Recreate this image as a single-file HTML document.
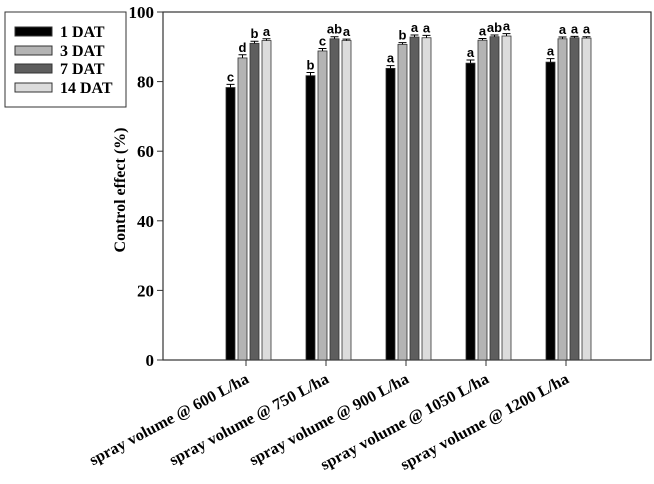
<!DOCTYPE html>
<html><head><meta charset="utf-8"><style>
body{margin:0;background:#fff;}
svg text{font-family:"Liberation Serif",serif;font-weight:bold;}
</style></head><body>
<svg id="chart" width="654" height="479" xmlns="http://www.w3.org/2000/svg">
<rect x="163" y="12" width="488" height="348" fill="none" stroke="#333" stroke-width="1.2"/>
<g id="bars"></g>
<g id="axes"></g>
<text transform="translate(125,190) rotate(-90)" text-anchor="middle" font-size="16">Control effect (%)</text>
<g>
<rect x="5" y="12" width="121" height="95" fill="#fff" stroke="#333" stroke-width="1"/>
<rect x="15" y="27" width="37" height="9" fill="#000" stroke="#333"/>
<text x="60" y="37" font-size="16">1 DAT</text>
<rect x="15" y="46" width="37" height="9" fill="#b4b4b4" stroke="#333"/>
<text x="60" y="56" font-size="16">3 DAT</text>
<rect x="15" y="64" width="37" height="9" fill="#5e5e5e" stroke="#333"/>
<text x="60" y="74" font-size="16">7 DAT</text>
<rect x="15" y="83" width="37" height="9" fill="#dcdcdc" stroke="#333"/>
<text x="60" y="93" font-size="16">14 DAT</text>
</g>
</svg>
<script>
const categories=["spray volume @ 600 L/ha","spray volume @ 750 L/ha","spray volume @ 900 L/ha","spray volume @ 1050 L/ha","spray volume @ 1200 L/ha"];
const dat1=[78.3,81.7,83.8,85.3,85.6];
const dat3=[86.8,88.8,90.7,91.9,92.3];
const dat7=[91.0,92.3,92.8,92.9,92.6];
const dat14=[91.8,91.8,92.6,93.1,92.5];
const err1=[0.9,0.9,0.8,0.9,1.0];
const err3=[0.9,0.7,0.5,0.5,0.5];
const err7=[0.6,0.6,0.6,0.5,0.4];
const err14=[0.5,0.4,0.7,0.7,0.4];
const let1=["c","b","a","a","a"];
const let3=["d","c","b","a","a"];
const let7=["b","ab","a","ab","a"];
const let14=["a","a","a","a","a"];
const yTicks=[0,20,40,60,80,100];
const NS="http://www.w3.org/2000/svg";
const y=v=>360-v*3.48;
const xc=i=>246+i*80;
const bw=9,step=12;
const series=[[dat1,err1,let1,"#000","1dat"],[dat3,err3,let3,"#b4b4b4","3dat"],[dat7,err7,let7,"#5e5e5e","7dat"],[dat14,err14,let14,"#dcdcdc","14dat"]];
const bars=document.getElementById("bars"),axes=document.getElementById("axes");
function mk(t,a,p){const e=document.createElementNS(NS,t);for(const k in a)e.setAttribute(k,a[k]);p.appendChild(e);return e;}
categories.forEach((c,i)=>{
  series.forEach((s,j)=>{
    const x=xc(i)-20+j*step;
    const v=s[0][i],e=s[1][i];
    const r=mk("rect",{x:x,y:y(v),width:bw,height:360-y(v),fill:s[3],stroke:"#333","stroke-width":0.8},bars);
    
    
    const cx=x+bw/2;
    const eb=mk("path",{d:`M${cx},${y(v)} V${y(v+e)} M${cx-4},${y(v+e)} H${cx+4}`,stroke:"#000","stroke-width":1,fill:"none"},bars);
    
    
    const t=mk("text",{x:cx,y:y(v+e)-3,"text-anchor":"middle","font-size":13},bars);
    t.style.fontFamily='"Liberation Sans",sans-serif';
    t.textContent=s[2][i];
    
    
  });
  const tk=mk("line",{x1:xc(i),x2:xc(i),y1:360,y2:366,stroke:"#333"},axes);
  
  
  const len=c.length>23?188:178;
  const l=mk("text",{transform:`translate(${xc(i)+4},382) rotate(-28)`,"text-anchor":"end","font-size":16,textLength:len,lengthAdjust:"spacingAndGlyphs"},axes);
  l.textContent=c;
  
  
});
yTicks.forEach(v=>{
  const tk=mk("line",{x1:157,x2:163,y1:y(v),y2:y(v),stroke:"#333"},axes);
  
  
  const t=mk("text",{x:154,y:y(v)+6,"text-anchor":"end","font-size":17},axes);
  t.textContent=v;
  
  
});
</script>
</body></html>
